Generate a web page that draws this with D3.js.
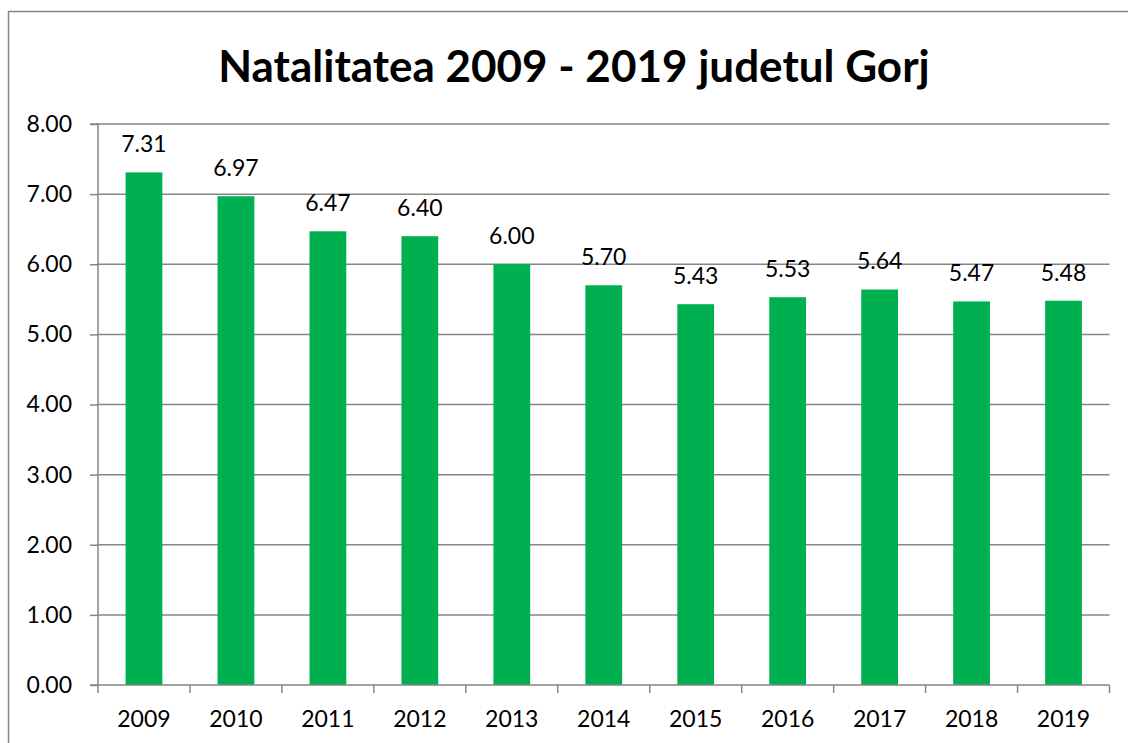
<!DOCTYPE html>
<html><head><meta charset="utf-8">
<script src="https://cdn.jsdelivr.net/npm/d3@7"></script>
<style>body{margin:0;background:#fff}svg{display:block}</style>
</head><body>
<script>
const years = ["2009","2010","2011","2012","2013","2014","2015","2016","2017","2018","2019"];
const values = [7.31,6.97,6.47,6.40,6.00,5.70,5.43,5.53,5.64,5.47,5.48];
const yTicks = [0,1,2,3,4,5,6,7,8];
const title = "Natalitatea 2009 - 2019 judetul Gorj";

const W = 1128, H = 743;
const svg = d3.select("body").append("svg").attr("width", W).attr("height", H);
const font = "Lato, 'Open Sans', sans-serif";

svg.append("rect").attr("x",8.5).attr("y",11.5).attr("width",W).attr("height",H)
  .attr("fill","#fff").attr("stroke","#868686").attr("stroke-width",1.5);

const m = {l:98, r:1109.5, t:124, b:685};
const x = d3.scaleBand().domain(years).range([m.l, m.r]).paddingInner(0.6).paddingOuter(0.3);
const xb = d3.scaleBand().domain(years).range([m.l, m.r]);
const y = d3.scaleLinear().domain([0,8]).range([m.b, m.t]);

// gridlines
svg.append("g").selectAll("line").data(yTicks.filter(d=>d>0)).join("line")
  .attr("x1", m.l).attr("x2", m.r).attr("y1", d=>y(d)).attr("y2", d=>y(d))
  .attr("stroke","#868686").attr("stroke-width",1.5);

// bars
svg.append("g").selectAll("rect").data(values).join("rect")
  .attr("x",(d,i)=>x(years[i])).attr("width",x.bandwidth())
  .attr("y",d=>y(d)).attr("height",d=>y(0)-y(d)).attr("fill","#00B050");

// y axis
const ya = svg.append("g").attr("transform",`translate(${m.l},0)`)
  .call(d3.axisLeft(y).tickValues(yTicks).tickFormat(d3.format(".2f")).tickSize(8).tickPadding(18));
ya.select(".domain").attr("stroke","#868686").attr("stroke-width",1.5).attr("d",`M-8,${m.t}H0V${m.b}H-8`);
ya.selectAll(".tick line").attr("stroke","#868686").attr("stroke-width",1.5);
ya.selectAll("text").attr("font-family",font).attr("font-size",23).attr("fill","#000");

// x axis
const xa = svg.append("g").attr("transform",`translate(0,${m.b})`);
xa.append("line").attr("x1",m.l).attr("x2",m.r).attr("stroke","#868686").attr("stroke-width",1.5);
const tickPos = years.map(d=>xb(d)).concat([m.r]);
xa.selectAll("line.t").data(tickPos).join("line").attr("class","t")
  .attr("x1",d=>d).attr("x2",d=>d).attr("y1",0).attr("y2",8)
  .attr("stroke","#868686").attr("stroke-width",1.5);
xa.selectAll("text").data(years).join("text")
  .attr("x",d=>xb(d)+xb.bandwidth()/2).attr("y",42)
  .attr("text-anchor","middle").attr("font-family",font).attr("font-size",23).attr("fill","#000")
  .text(d=>d);

// labels
svg.append("g").selectAll("text").data(values).join("text")
  .attr("x",(d,i)=>x(years[i])+x.bandwidth()/2).attr("y",d=>y(d)-20)
  .attr("text-anchor","middle").attr("font-family",font).attr("font-size",23).attr("fill","#000")
  .text(d=>d.toFixed(2));

svg.append("text").attr("x",574).attr("y",82).attr("text-anchor","middle")
  .attr("font-family",font).attr("font-weight","bold").attr("font-size",44).attr("fill","#000")
  .text(title);
</script>
</body></html>
